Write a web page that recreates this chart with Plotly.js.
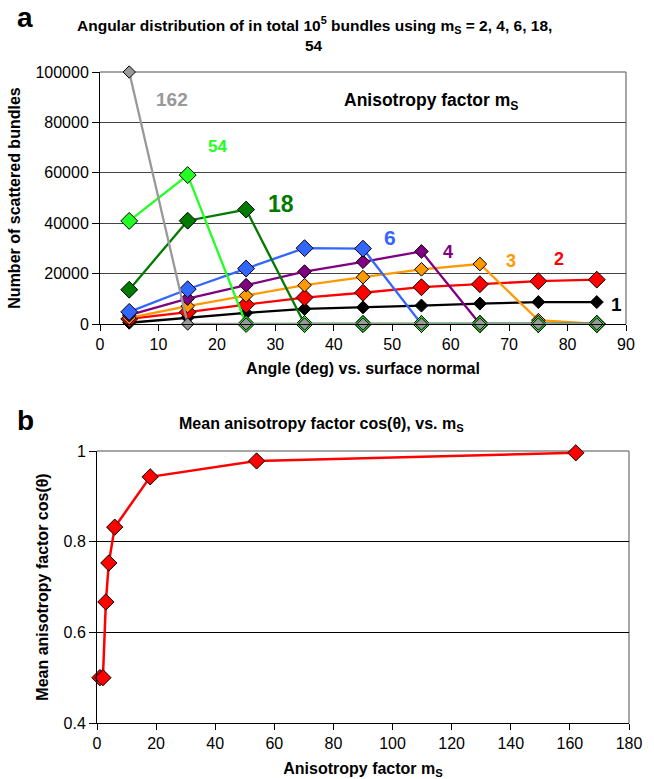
<!DOCTYPE html>
<html>
<head>
<meta charset="utf-8">
<script src="https://cdn.plot.ly/plotly-3.0.1.min.js"></script>
<style>
  html, body { margin: 0; padding: 0; background: #ffffff; }
  #chart { width: 654px; height: 779px; }
</style>
</head>
<body>
<div id="chart"></div>
<script>
// Panel a: angular distribution of scattered bundles per 10-degree bin
const angles = [5, 15, 25, 35, 45, 55, 65, 75, 85];
const counts_m1   = [500, 2600, 4400, 6000, 6600, 7300, 8100, 8700, 8700];
const counts_m2   = [2000, 4700, 7700, 10500, 12400, 14600, 15800, 17000, 17600];
const counts_m3   = [2400, 7100, 11300, 15400, 18600, 21700, 23800, 1500, 0];
const counts_m4   = [3500, 10100, 15400, 20800, 24700, 28800, 0, 0, 0];
const counts_m6   = [4800, 13800, 22000, 30100, 29900, 0, 0, 0, 0];
const counts_m18  = [13600, 41000, 45400, 0, 0, 0, 0, 0, 0];
const counts_m54  = [40900, 59100, 0, 0, 0, 0, 0, 0, 0];
const counts_m162 = [100000, 0, 0, 0, 0, 0, 0, 0, 0];
const yTicksA = [0, 20000, 40000, 60000, 80000, 100000];
const xTicksA = [0, 10, 20, 30, 40, 50, 60, 70, 80, 90];

// Panel b: mean anisotropy factor cos(theta) against m_S
const msValues = [1, 2, 3, 4, 6, 18, 54, 162];
const meanCos  = [0.5, 0.5, 0.667, 0.753, 0.832, 0.943, 0.978, 0.996];
const yTicksB = [0.4, 0.6, 0.8, 1];
const xTicksB = [0, 20, 40, 60, 80, 100, 120, 140, 160, 180];

const FONT = 'Liberation Sans, Arial, sans-serif';

// figure geometry
const W = 654, H = 779;
const M = { l: 97, r: 25, t: 72, b: 56 };
const PW = W - M.l - M.r, PH = H - M.t - M.b;
const px = x => (x - M.l) / PW;
const py = y => (H - M.b - y) / PH;

function seriesA(name, ys, color, size) {
  return {
    type: 'scatter', mode: 'lines+markers', name: name,
    x: angles, y: ys, xaxis: 'x', yaxis: 'y',
    line: { color: color, width: 2.3 },
    marker: { symbol: 'diamond', size: size, color: color,
              line: { color: '#000000', width: 1 } },
    cliponaxis: false, hoverinfo: 'x+y+name'
  };
}

const traces = [
  seriesA('1', counts_m1, '#000000', 10),
  seriesA('2', counts_m2, '#ff0000', 13),
  seriesA('3', counts_m3, '#ff9900', 10.5),
  seriesA('4', counts_m4, '#800080', 10.5),
  seriesA('6', counts_m6, '#3366ff', 13),
  seriesA('18', counts_m18, '#007a00', 13),
  seriesA('54', counts_m54, '#22ff22', 13),
  seriesA('162', counts_m162, '#999999', 9.5),
  {
    type: 'scatter', mode: 'lines+markers', name: 'mean cos',
    x: msValues, y: meanCos, xaxis: 'x2', yaxis: 'y2',
    line: { color: '#ff0000', width: 2.5 },
    marker: { symbol: 'diamond', size: 12.5, color: '#ff0000',
              line: { color: '#000000', width: 1 } },
    cliponaxis: false
  }
];

const tickFont = { family: FONT, size: 16, color: '#000000' };
const titleFont = { family: FONT, size: 16, color: '#000000', weight: 'bold' };

function label(text, x, y, color, size, anchor) {
  return {
    text: '<b>' + text + '</b>', x: px(x), y: py(y), xref: 'paper', yref: 'paper',
    showarrow: false, xanchor: anchor || 'center', yanchor: 'middle',
    font: { family: FONT, size: size, color: color }
  };
}

const layout = {
  width: W, height: H,
  margin: M,
  paper_bgcolor: '#ffffff', plot_bgcolor: '#ffffff',
  showlegend: false,
  xaxis: {
    domain: [px(100), px(626)], anchor: 'y',
    range: [0, 90], tickvals: xTicksA, ticks: 'outside', ticklen: 6,
    tickcolor: '#000000', showline: true, linecolor: '#000000', linewidth: 1,
    showgrid: false, zeroline: false, tickfont: tickFont,
    title: { text: 'Angle (deg) vs. surface normal', font: titleFont, standoff: 10 }
  },
  yaxis: {
    domain: [py(324), py(72)], anchor: 'x',
    range: [0, 100000], tickvals: yTicksA, tickformat: 'd', ticks: 'outside', ticklen: 7,
    tickcolor: '#000000', showline: true, linecolor: '#000000', linewidth: 1,
    showgrid: true, gridcolor: '#444444', gridwidth: 1, zeroline: false,
    tickfont: tickFont,
    title: { text: 'Number of scattered bundles', font: titleFont, standoff: 10 }
  },
  xaxis2: {
    domain: [px(97), px(629)], anchor: 'y2',
    range: [0, 180], tickvals: xTicksB, ticks: 'outside', ticklen: 6,
    tickcolor: '#000000', showline: true, linecolor: '#000000', linewidth: 1,
    showgrid: false, zeroline: false, tickfont: tickFont,
    title: { text: 'Anisotropy factor m<sub>S</sub>', font: titleFont, standoff: 14 }
  },
  yaxis2: {
    domain: [py(723), py(451)], anchor: 'x2',
    range: [0.4, 1], tickvals: yTicksB, ticktext: ['0.4', '0.6', '0.8', '1'],
    ticks: 'outside', ticklen: 7,
    tickcolor: '#000000', showline: true, linecolor: '#000000', linewidth: 1,
    showgrid: true, gridcolor: '#000000', gridwidth: 1, zeroline: false,
    tickfont: tickFont,
    title: { text: 'Mean anisotropy factor cos(θ)', font: titleFont, standoff: 10 }
  },
  shapes: [
    // grey frame on the top and right of each plot area
    { type: 'line', xref: 'x domain', yref: 'y domain', x0: 0, x1: 1, y0: 1, y1: 1,
      line: { color: '#888888', width: 1.5 }, layer: 'below' },
    { type: 'line', xref: 'x domain', yref: 'y domain', x0: 1, x1: 1, y0: 0, y1: 1,
      line: { color: '#888888', width: 1.5 }, layer: 'below' },
    { type: 'line', xref: 'x2 domain', yref: 'y2 domain', x0: 0, x1: 1, y0: 1, y1: 1,
      line: { color: '#888888', width: 1.5 }, layer: 'below' },
    { type: 'line', xref: 'x2 domain', yref: 'y2 domain', x0: 1, x1: 1, y0: 0, y1: 1,
      line: { color: '#888888', width: 1.5 }, layer: 'below' }
  ],
  annotations: [
    label('a', 25, 18, '#000000', 28),
    label('Angular distribution of in total 10<sup>5</sup> bundles using m<sub>S</sub> = 2, 4, 6, 18,', 314, 25, '#000000', 15.5),
    label('54', 314, 45, '#000000', 15.5),
    label('Anisotropy factor m<sub>S</sub>', 431, 101, '#000000', 17.5),
    label('162', 172, 100, '#999999', 19),
    label('54', 217, 147, '#22ff22', 17),
    label('18', 281, 204, '#007a00', 23),
    label('6', 390, 237, '#3366ff', 21),
    label('4', 448, 252, '#800080', 18),
    label('3', 511, 261, '#ff9900', 18),
    label('2', 559, 259, '#ff0000', 18),
    label('1', 616, 304, '#000000', 19),
    label('b', 25, 421, '#000000', 28),
    label('Mean anisotropy factor cos(θ), vs. m<sub>S</sub>', 321, 424, '#000000', 16)
  ]
};

Plotly.newPlot('chart', traces, layout, { displayModeBar: false, staticPlot: true });
</script>
</body>
</html>
